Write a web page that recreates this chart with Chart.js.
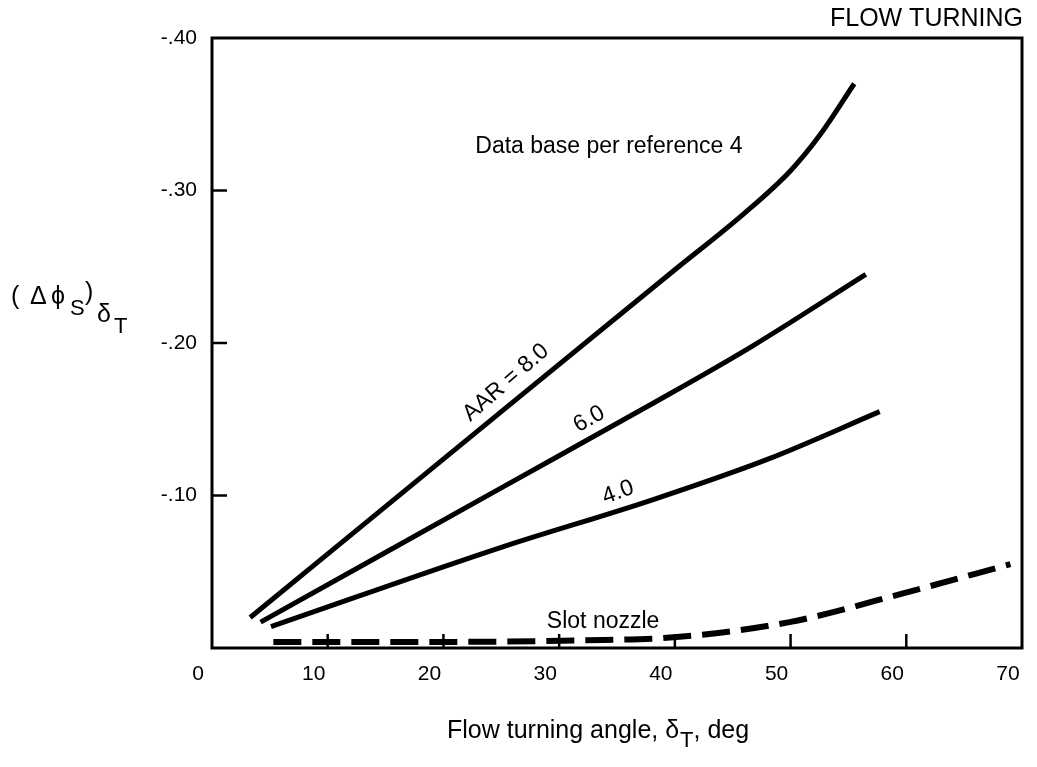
<!DOCTYPE html>
<html lang="en">
<head>
    <meta charset="UTF-8">
    <title>Flow Turning</title>
    <script src="https://cdn.jsdelivr.net/npm/chart.js"></script>
    <style>
        body {
            margin: 0;
            padding: 0;
            background: #ffffff;
        }

        .chart-wrap {
            width: 1037px;
            height: 767px;
        }
    </style>
</head>
<body>
    <div class="chart-wrap">
        <canvas id="flowChart"></canvas>
    </div>

    <script>
        // curves (x = flow turning angle, y = delta phi_s)
        const aar8X = [3.3, 25, 40, 46, 50, 52.5, 55.5];
        const aar8Y = [-0.020, -0.155, -0.248, -0.285, -0.313, -0.336, -0.370];

        const aar6X = [4.2, 25, 38, 46.7, 56.5];
        const aar6Y = [-0.017, -0.105, -0.160, -0.198, -0.245];

        const aar4X = [5.1, 25, 38, 48.1, 57.7];
        const aar4Y = [-0.014, -0.066, -0.097, -0.124, -0.155];

        const slotX = [5.3, 20, 31.9, 39.9, 49.9, 59.8, 69];
        const slotY = [-0.004, -0.004, -0.005, -0.007, -0.017, -0.036, -0.055];

        const xTicks = [0, 10, 20, 30, 40, 50, 60, 70];
        const yTicks = [-0.40, -0.30, -0.20, -0.10, 0];

        const FONT = "'Liberation Sans', Arial, sans-serif";

        function toPoints(xs, ys) {
            return xs.map((x, i) => ({ x: x, y: ys[i] }));
        }

        function curve(label, xs, ys, dashed) {
            return {
                label: label,
                data: toPoints(xs, ys),
                borderColor: '#000',
                borderWidth: dashed ? 6 : 5,
                borderDash: dashed ? [28, 11] : [],
                borderCapStyle: 'butt',
                pointRadius: 0,
                fill: false,
                cubicInterpolationMode: 'monotone'
            };
        }

        // box, inward ticks and the text written on the figure
        const decorations = {
            id: 'decorations',
            afterDraw(chart) {
                const ctx = chart.ctx;
                const area = chart.chartArea;
                const xs = chart.scales.x;
                const ys = chart.scales.y;

                ctx.save();
                ctx.strokeStyle = '#000';
                ctx.lineWidth = 3;
                ctx.strokeRect(area.left, area.top, area.right - area.left, area.bottom - area.top);

                ctx.lineWidth = 2.5;
                xTicks.slice(1, -1).forEach(t => {
                    const px = xs.getPixelForValue(t);
                    ctx.beginPath();
                    ctx.moveTo(px, area.bottom);
                    ctx.lineTo(px, area.bottom - 14);
                    ctx.stroke();
                });
                yTicks.slice(1, -1).forEach(t => {
                    const py = ys.getPixelForValue(t);
                    ctx.beginPath();
                    ctx.moveTo(area.left, py);
                    ctx.lineTo(area.left + 15, py);
                    ctx.stroke();
                });

                ctx.fillStyle = '#000';
                ctx.textBaseline = 'middle';

                function put(text, x, y, size, angle) {
                    ctx.save();
                    ctx.translate(xs.getPixelForValue(x), ys.getPixelForValue(y));
                    ctx.rotate((angle || 0) * Math.PI / 180);
                    ctx.font = size + 'px ' + FONT;
                    ctx.textAlign = 'center';
                    ctx.fillText(text, 0, 0);
                    ctx.restore();
                }

                put('Data base per reference 4', 34.3, -0.329, 23, 0);
                put('AAR = 8.0', 25.4, -0.174, 23, -41);
                put('6.0', 32.6, -0.150, 23, -29);
                put('4.0', 35.1, -0.102, 23, -20);
                put('Slot nozzle', 33.8, -0.017, 23, 0);

                // corner title
                ctx.font = '25px ' + FONT;
                ctx.textAlign = 'right';
                ctx.fillText('FLOW TURNING', 1023, 19);

                // x axis title with subscript
                ctx.textAlign = 'left';
                ctx.textBaseline = 'alphabetic';
                let cx = 447;
                const base = 738;
                ctx.font = '25px ' + FONT;
                ctx.fillText('Flow turning angle, ', cx, base);
                cx += ctx.measureText('Flow turning angle, ').width;
                ctx.fillText('\u03b4', cx, base);
                cx += ctx.measureText('\u03b4').width + 1;
                ctx.font = '22px ' + FONT;
                ctx.fillText('T', cx, base + 9);
                cx += ctx.measureText('T').width;
                ctx.font = '25px ' + FONT;
                ctx.fillText(', deg', cx, base);

                // y axis title
                ctx.font = '25px ' + FONT;
                ctx.fillText('(', 11, 304);
                ctx.fillText('\u0394', 30, 304);
                ctx.fillText('\u03d5', 51, 304);
                ctx.font = '22px ' + FONT;
                ctx.fillText('S', 70, 315);
                ctx.font = '25px ' + FONT;
                ctx.fillText(')', 85, 300);
                ctx.fillText('\u03b4', 97, 322);
                ctx.font = '22px ' + FONT;
                ctx.fillText('T', 114, 333);

                ctx.restore();
            }
        };

        new Chart(document.getElementById('flowChart'), {
            type: 'line',
            data: {
                datasets: [
                    curve('AAR = 8.0', aar8X, aar8Y, false),
                    curve('AAR = 6.0', aar6X, aar6Y, false),
                    curve('AAR = 4.0', aar4X, aar4Y, false),
                    curve('Slot nozzle', slotX, slotY, true)
                ]
            },
            options: {
                responsive: true,
                maintainAspectRatio: false,
                animation: false,
                layout: {
                    padding: { left: 0, right: 15, top: 38, bottom: 0 }
                },
                plugins: {
                    legend: { display: false },
                    tooltip: { enabled: false }
                },
                scales: {
                    x: {
                        type: 'linear',
                        min: 0,
                        max: 70,
                        afterFit: s => {
                            s.height = 119;
                            s.paddingLeft = 0;
                            s.paddingRight = 0;
                        },
                        afterBuildTicks: s => { s.ticks = xTicks.map(v => ({ value: v })); },
                        grid: { display: false, drawTicks: false },
                        border: { display: false },
                        ticks: {
                            color: '#000',
                            font: { family: FONT, size: 21 },
                            padding: 14,
                            labelOffset: -14,
                            maxRotation: 0,
                            callback: v => String(v)
                        }
                    },
                    y: {
                        type: 'linear',
                        min: -0.40,
                        max: 0,
                        reverse: true,
                        afterFit: s => {
                            s.width = 212;
                            s.paddingTop = 0;
                            s.paddingBottom = 0;
                        },
                        afterBuildTicks: s => { s.ticks = yTicks.map(v => ({ value: v })); },
                        grid: { display: false, drawTicks: false },
                        border: { display: false },
                        ticks: {
                            color: '#000',
                            font: { family: FONT, size: 21 },
                            padding: 15,
                            callback: v => Math.abs(v) < 1e-9 ? '' : '-' + Math.abs(v).toFixed(2).slice(1)
                        }
                    }
                }
            },
            plugins: [decorations]
        });
    </script>
</body>
</html>
